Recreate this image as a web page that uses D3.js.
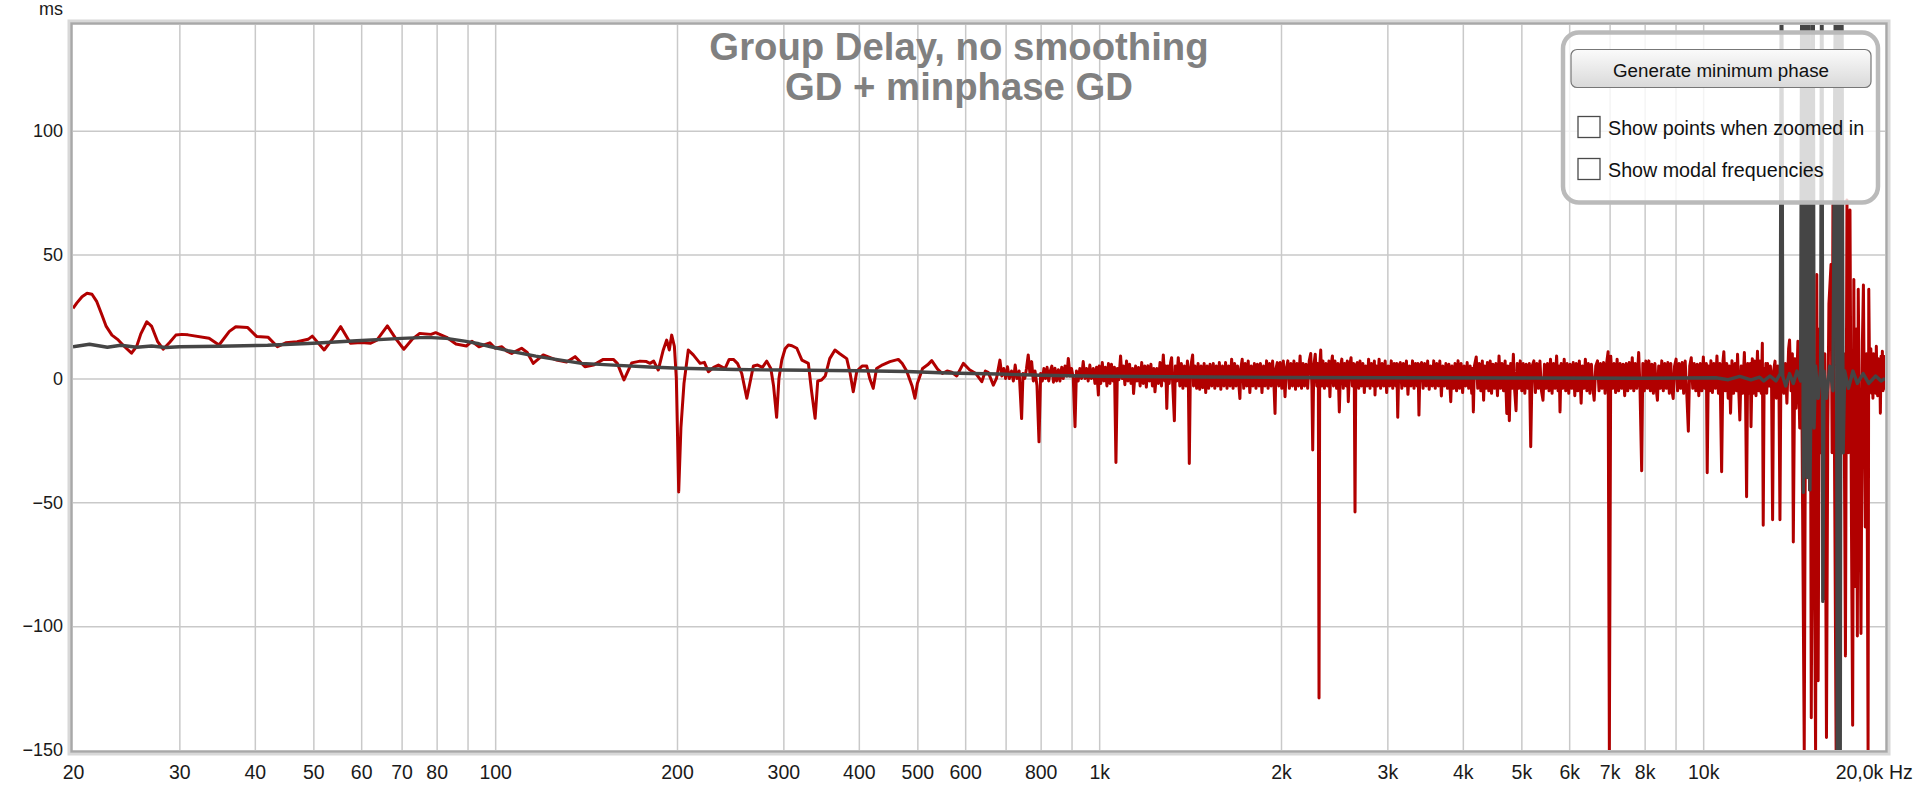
<!DOCTYPE html>
<html><head><meta charset="utf-8">
<script src="https://cdn.jsdelivr.net/npm/d3@7"></script>
<style>html,body{margin:0;padding:0;background:#fff;overflow:hidden}</style>
</head><body>
<svg id="chart" width="1920" height="787"></svg>
<script>
// ---------- DATA ----------
const titleLines = ["Group Delay, no smoothing", "GD + minphase GD"];
const yUnit = "ms";
const xUnit = "Hz";
const yTicks = [100, 50, 0, -50, -100, -150];
const yGrid = [100, 50, 0, -50, -100];
const gridFreqs = [30,40,50,60,70,80,90,100,200,300,400,500,600,700,800,900,1000,2000,3000,4000,5000,6000,7000,8000,9000,10000];
const labelFreqs = [20,30,40,50,60,70,80,100,200,300,400,500,600,800,1000,2000,3000,4000,5000,6000,7000,8000,10000,20000];
const labelTexts = ["20","30","40","50","60","70","80","100","200","300","400","500","600","800","1k","2k","3k","4k","5k","6k","7k","8k","10k","20,0k"];
const buttonLabel = "Generate minimum phase";
const checkLabels = ["Show points when zoomed in", "Show modal frequencies"];

// measured group delay (red), [Hz, ms]
const gdLow = [[20,28.3],[20.3,30.5],[20.7,33],[21.1,34.4],[21.5,34],[21.9,31],[22.3,26],[22.7,21],[23.2,17.5],[23.7,15.8],[24.3,13],[25.0,10.2],[25.5,13],[25.9,18],[26.5,22.9],[27,21],[27.6,15],[28.2,11.8],[28.9,14.5],[29.6,17.5],[30.3,17.8],[31.0,17.6],[33.6,16.2],[34.9,13.5],[36.3,19],[37.2,20.9],[38.9,20.6],[40.3,16.9],[42.1,16.6],[43.6,12.8],[45.0,14.4],[47,14.8],[49.0,15.8],[49.8,17.1],[52.1,11.5],[53.8,16],[55.5,20.9],[57.6,14.2],[60,14.5],[62.2,14.2],[63.7,15.5],[66.3,21.2],[68.5,16],[70.6,11.8],[73,16],[75.0,18.2],[78.3,17.8],[79.7,18.5],[83.1,16.6],[86.1,13.9],[89.6,13.1],[91.5,15],[94,12.8],[98,14.4],[100,12.2],[102.6,12.8],[104.5,11],[106.5,10.1],[110.6,12.2],[113,10.5],[115.6,6.1],[120.1,9.5],[126.4,7.4],[131.3,6.6],[135.6,8.8],[140.8,4.7],[145.4,5.4],[151,7.7],[156.9,7.7],[159.3,6.1],[163.4,-0.6],[168.3,6.3],[173.7,7.0],[178,6.8],[180.4,6.1],[183,7],[186.2,3.4],[189.8,11.5],[192.3,15.5],[194.2,11.5],[196,17.5],[198,13],[199.5,0],[201.3,-45.8],[203,-20],[205.4,-2],[208.8,11.5],[212.8,9.5],[218.4,6.1],[222,6.5],[225.4,2.7],[230,4.5],[234.2,5.4],[240.2,4.0],[244,7.7],[248,7.7],[252,6],[256,2],[261,-8],[267.6,5.0],[272,5.4],[277,4.5],[281.6,7],[286,4],[289,-3],[292.4,-15.7],[295,0],[298.2,7.4],[302,12],[305.8,13.5],[310,13.2],[315.8,12.2],[322,7.4],[330,6.1],[334,-5],[338.6,-16.1],[342,-1],[347,-0.6],[352,1],[358,8],[365.2,11.5],[372,10],[382,8],[387,2],[391.6,-5.4],[397,3],[405,5],[412.2,5],[417,0],[422.6,-4],[428,4],[438,5.5],[450.4,6.8],[465,7.7],[472,6],[480,3],[490,-3],[495.4,-8],[500,-2],[510,4],[520,5.5],[528.2,7.2],[540,3.8],[550,2],[560,3],[570,2.5],[581,1],[595.8,6.1],[610,3.5],[625,2],[639.2,-1.3],[648,3],[655,2.5],[668,-2.7],[676,0],[685,7.4],[690,1],[695,4],[700,0],[705,4.7],[710,0],[716,3],[721,-1],[726,5.4],[731,0],[737,3],[744,-16.2],[748,2],[753,0],[758,4],[763,9.5],[768,2],[773,6.8],[778,-1],[783,3],[789,-3],[795,-25.6],[800,2],[805,-1],[810,4],[815,0],[820,4.5],[825,-1],[830,3],[835,5],[840,-1.5],[845,4.1],[850,-1],[856,3.5],[861,-1],[867,4.5],[872,0],[878,5],[884,1],[889,8.1],[895,1],[900,4],[906,0],[912,-19.5],[917,3],[923,-1],[929,4],[935,0],[941,6.8],[947,0],[953,4],[959,-1],[965,5.4],[971,0],[978,4],[984,-2],[990,4.5],[997,-6.7]];

const gdMid = [[1000,5],[1006,-2],[1012,6.4],[1018,-1],[1024,4.5],[1030,-3],[1036,6],[1042,-2],[1048,5.7],[1054,-1],[1060,4.5],[1066,-33.9],[1072,4],[1078,-0.5],[1085,9.1],[1091,0],[1097,5],[1103,-2.5],[1110,7],[1116,-1],[1123,5.7],[1129,-2],[1136,4],[1140,-6.1],[1149,5],[1155,-1],[1162,4.4],[1169,-3],[1176,6.4],[1183,-2],[1190,5],[1197,-3.5],[1204,5.1],[1211,-1],[1218,5.7],[1225,-3],[1232,4],[1237,-5.4],[1246,4],[1253,-2],[1261,6.4],[1268,-3],[1277,9.5],[1284,-1],[1289,5],[1294,-12.1],[1300,5],[1306,-2],[1313,6.4],[1318,8.4],[1324,-3],[1332,-17.1],[1337,5],[1344,-1],[1352,8.4],[1360,-3],[1368,6],[1376,-4],[1384,5],[1392,-3],[1400,7],[1405,-2],[1410,-34.3],[1416,4],[1428,9.5],[1433,-3],[1441,5],[1450,-4],[1458,6],[1467,-4.4],[1475,5],[1484,-3.7],[1492,6],[1501,-5.7],[1509,5],[1518,-4],[1526,5.7],[1536,-3],[1545,6],[1554,-4],[1563,5],[1572,-3],[1581,6.4],[1590,-4.4],[1600,5],[1609,-3],[1619,6.4],[1628,-4],[1638,5],[1647,-3],[1657,7.8],[1666,-4],[1676,6],[1685,-3],[1695,5],[1705,-4],[1710,-8.1],[1716,4],[1725,7.8],[1735,-4],[1745,6],[1755,-3],[1765,7],[1776,-5.7],[1786,5],[1797,-3],[1807,6],[1818,-4],[1828,5.7],[1839,-3],[1849,6],[1860,-5.7],[1871,5],[1882,-3],[1893,7.1],[1904,-4],[1915,6],[1926,-3],[1937,7],[1948,-4],[1955,-14.1],[1962,4],[1972,6.4],[1983,-3],[1994,6.4],[2006,-4],[2018,7],[2031,-7.4],[2041,4],[2053,7.1],[2065,-4],[2077,6],[2089,-3],[2101,7],[2114,-4.4],[2126,6],[2138,-3],[2151,9.1],[2163,-4],[2176,6],[2188,-3],[2201,5.7],[2214,-4],[2227,7],[2240,10.1],[2250,-3],[2257,-28.9],[2266,5],[2279,9.8],[2292,-3],[2300,6],[2306,-4],[2312,-129],[2318,5],[2327,11.5],[2337,-3],[2347,7],[2360,-4],[2374,6],[2387,-3],[2401,7],[2410,-7.4],[2420,5],[2433,9.1],[2443,-3],[2457,7],[2472,-4],[2485,6],[2498,-13.5],[2510,5],[2522,7.8],[2536,-4],[2550,6],[2565,-3],[2575,7],[2585,-9.4],[2598,5],[2612,8.4],[2625,-3],[2638,6],[2645,-4],[2652,-53.9],[2660,5],[2675,6.4],[2690,-4],[2703,7],[2718,-3],[2733,6],[2748,-5.7],[2763,5],[2778,-3],[2793,7.8],[2808,-4],[2824,6],[2841,-3],[2855,7],[2862,-6.7],[2874,5],[2890,-3],[2907,7.8],[2924,-4],[2941,6],[2958,-3],[2975,7],[2992,-5.7],[3010,5],[3027,-3],[3045,7.1],[3062,-4],[3080,6],[3098,-3],[3110,6],[3121,-15.7],[3134,5],[3152,6.4],[3170,-4],[3189,6],[3207,-3],[3226,7],[3245,-6.4],[3264,5],[3283,-3],[3302,7.1],[3321,-4],[3340,6],[3360,-3],[3372,6],[3384,-14.8],[3398,5],[3418,6.4],[3438,-4],[3458,6],[3478,-3],[3498,7],[3519,-4.4],[3539,5],[3560,-3],[3580,7.1],[3601,-4],[3622,6],[3643,-3],[3664,7],[3686,-7.1],[3707,5],[3729,-3],[3750,6],[3772,-4],[3794,5.7],[3808,-3],[3820,-9.4],[3838,5]];

const gdHigh = [[3861,-4],[3883,6],[3906,-5],[3928,7.1],[3951,-4],[3974,6],[3997,-5.7],[4020,5],[4043,-3],[4067,6.4],[4090,-4],[4114,5],[4138,-6],[4150,4],[4164,-13.5],[4180,5],[4210,8.7],[4234,-4],[4259,6],[4284,-5],[4309,7],[4330,-8.8],[4350,5],[4370,-4],[4393,6.4],[4416,-5],[4440,7],[4463,-6],[4487,5.7],[4513,-4],[4538,6],[4565,-7],[4592,9.1],[4618,-4],[4645,6],[4672,-5],[4700,7],[4730,-14.1],[4750,5],[4776,-17.1],[4800,6],[4825,-4],[4850,9.8],[4875,-5],[4900,-13],[4922,6],[4950,-4],[4979,7.1],[5008,-5],[5037,6],[5066,-6],[5095,5.7],[5125,-4],[5155,6],[5182,-27.6],[5210,5],[5244,7.1],[5275,-5.7],[5305,6],[5336,-4],[5367,7],[5398,-5],[5430,-8.8],[5461,5.7],[5492,-4],[5524,6],[5556,-5],[5588,7.8],[5621,-6],[5654,6],[5686,-4],[5719,9.1],[5752,-5],[5775,5],[5794,-13.5],[5819,6],[5853,-4],[5887,7.8],[5921,-5],[5955,6],[5990,-6],[6024,5.7],[6059,-4],[6094,6.4],[6130,-7],[6165,6],[6200,-5],[6237,7],[6280,-10],[6309,5],[6345,-4],[6382,7.8],[6419,-5],[6456,6],[6494,-6],[6531,5.7],[6569,-4],[6600,-8.8],[6640,5],[6684,7.1],[6723,-5],[6762,6],[6800,-4],[6840,6.4],[6880,-6],[6919,6],[6960,10.8],[6993,-150],[7030,9],[7080,-4],[7120,6],[7162,-5.7],[7203,7.8],[7245,-5],[7287,6],[7329,-4],[7371,5.7],[7414,-7],[7457,6],[7500,-5],[7543,6.4],[7587,-4],[7631,8.4],[7675,-5],[7720,6],[7764,-4],[7820,10.5],[7860,-4],[7910,-37.3],[7945,6],[7991,-5],[8037,7],[8083,-4],[8130,7.1],[8177,-5],[8224,5.7],[8271,-6],[8319,6],[8367,-5],[8400,-8.8],[8440,5],[8490,-4],[8540,7.1],[8590,-5],[8640,6],[8690,-4],[8740,6.4],[8790,-6],[8840,6],[8880,-5],[8920,-8.1],[8966,5],[9019,7.8],[9070,-5],[9124,6],[9177,-4],[9230,6.4],[9283,-6],[9337,7],[9390,-5],[9450,-21.3],[9500,5],[9555,8.4],[9610,-4],[9666,6],[9722,-5],[9778,5.7],[9834,-7],[9891,6],[9948,-5],[10006,8.7],[10064,-4],[10122,6],[10155,-38.1],[10200,5],[10250,-5],[10300,7.1],[10358,-5.7],[10418,6],[10478,-4],[10539,9.1],[10600,-6],[10661,6],[10729,-37.7],[10785,7],[10820,10.8],[10880,-5],[10940,6],[11000,-8],[11050,5],[11100,-14],[11160,7.1],[11229,-6],[11294,6],[11359,-5],[11400,9.8],[11450,-4],[11500,-16.8],[11560,5],[11624,-6],[11700,10.5],[11750,-5],[11800,-47.8],[11850,6],[11920,-6],[11970,6],[12000,-19.5],[12060,8],[12120,-6],[12173,7],[12230,-7],[12300,11],[12360,-5],[12420,7],[12480,-6],[12530,14.2],[12572,-59.3]];

const gdTop = [[12620,4],[12660,-5],[12700,6],[12740,-6],[12780,6],[12850,-3],[12920,5],[12980,-4],[13030,-57],[13080,3],[13150,7],[13220,-8],[13300,5],[13350,-4],[13400,-57],[13450,4],[13520,9],[13600,-6],[13680,6],[13760,-10],[13850,12],[13900,15.5],[13980,-5],[14050,10],[14100,-66],[14180,8],[14250,-12],[14350,15],[14450,-20],[14550,10],[14700,-150],[14780,12],[14850,-30],[14920,20],[15000,-45],[15050,15],[15100,-137],[15180,10],[15250,-40],[15350,-150],[15420,42],[15500,-122],[15580,20],[15650,-30],[15720,25],[15800,-89],[15900,10],[16000,-145],[16080,-20],[16150,30],[16280,46],[16350,-30],[16400,70],[16480,-10],[16600,-150],[16700,20],[16780,-150],[16900,33],[17000,-20],[17100,10],[17200,-112],[17300,72],[17400,-30],[17500,68],[17600,-60],[17680,-140],[17760,40],[17850,-84],[17930,20],[18000,-104],[18060,36],[18150,-20],[18250,-103],[18350,15],[18420,37.7],[18550,-60],[18650,10],[18750,-150],[18800,36],[18870,-5],[18950,12],[19000,-6],[19050,8],[19100,-8],[19150,10],[19200,-4],[19250,7],[19300,-6],[19350,13],[19400,-3],[19450,-7],[19500,8],[19550,-5],[19600,6],[19650,-14],[19700,9],[19750,-3],[19800,11],[19850,-5],[19900,9],[19950,-4],[20000,6]];

// minimum phase group delay (dark grey), [Hz, ms]
const mpLow = [[20,12.8],[21.3,13.8],[22.8,12.6],[24,13.4],[25.5,12.6],[27,13.1],[28.5,12.5],[30,12.8],[35,13],[42,13.4],[50,14.2],[59,15.2],[70,16.2],[77,16.6],[83,16.2],[89,15.1],[94,14],[98,12.9],[105,11.2],[116.7,9.0],[123,8.1],[139,6.1],[157,5.4],[180,4.6],[202,4.1],[250,3.6],[298,3.4],[400,3.1],[480,2.8],[560,2.2],[680,1.8],[800,1.3],[1000,0.9],[1500,0.6],[2000,0.4],[3000,0.3],[5000,0.2],[8000,0.1],[10500,0.3],[11000,-0.5],[11500,0.8],[12000,-0.6]];
const mpHigh = [[12400,0.5],[12600,-1],[12900,1],[13200,-1],[13420,2],[13480,200],[13540,1],[13700,-3],[13900,2],[14100,-2],[14300,3],[14500,-1],[14580,200],[14650,-46],[14750,200],[14850,-40],[14950,200],[15020,-45],[15100,3],[15200,200],[15260,-20],[15350,5],[15500,-8],[15650,4],[15720,200],[15780,-90],[15850,3],[16000,-8],[16200,5],[16400,-5],[16600,200],[16680,-200],[16750,200],[16850,-200],[16950,200],[17050,-30],[17150,3],[17400,-4],[17700,3],[18000,-2],[18400,2],[18800,-2],[19300,1],[19700,-1],[20000,0]];

// ---------- CHART ----------
const svg = d3.select('#chart');
const FONT = '"Liberation Sans", Arial, sans-serif';
const plot = {left:73, right:1885, top:25, bottom:750};
const x = d3.scaleLog().domain([20, 20000]).range([plot.left, plot.right]);
const y = d3.scaleLinear().domain([-150, 142.7]).range([plot.bottom, plot.top]);

svg.append('rect').attr('width',1920).attr('height',787).attr('fill','#fff');

const defs = svg.append('defs');
defs.append('clipPath').attr('id','plotClip').append('rect')
  .attr('x',plot.left).attr('y',plot.top).attr('width',plot.right-plot.left).attr('height',plot.bottom-plot.top);
const grad = defs.append('linearGradient').attr('id','btnGrad').attr('x1',0).attr('x2',0).attr('y1',0).attr('y2',1);
grad.append('stop').attr('offset','0%').attr('stop-color','#fbfbfb');
grad.append('stop').attr('offset','100%').attr('stop-color','#d9d9d9');

// gridlines
svg.append('g').attr('transform',`translate(0,${plot.bottom})`)
  .call(d3.axisBottom(x).tickValues(gridFreqs).tickSize(-(plot.bottom-plot.top)).tickFormat(''))
  .call(g=>g.select('.domain').remove())
  .call(g=>g.selectAll('line').attr('stroke','#c9c9c9').attr('stroke-width',1.5));
svg.append('g').attr('transform',`translate(${plot.left},0)`)
  .call(d3.axisLeft(y).tickValues(yGrid).tickSize(-(plot.right-plot.left)).tickFormat(''))
  .call(g=>g.select('.domain').remove())
  .call(g=>g.selectAll('line').attr('stroke','#c9c9c9').attr('stroke-width',1.5));

// lines
const line = d3.line().x(d=>x(d[0])).y(d=>y(d[1]));
const lines = svg.append('g').attr('clip-path','url(#plotClip)');
const redData = gdLow.concat(gdMid, gdHigh, gdTop);
const greyData = mpLow.concat(mpHigh);
lines.append('path').datum(redData).attr('d',line)
  .attr('fill','none').attr('stroke','#b10000').attr('stroke-width',3).attr('stroke-linejoin','round');
lines.append('path').datum(greyData).attr('d',line)
  .attr('fill','none').attr('stroke','#454545').attr('stroke-width',3.4).attr('stroke-linejoin','round');

// frame
svg.append('rect').attr('x',69).attr('y',21).attr('width',1820).attr('height',733)
  .attr('fill','none').attr('stroke','#d8d8d8').attr('stroke-width',3);
svg.append('rect').attr('x',71.5).attr('y',23.5).attr('width',1815).attr('height',728)
  .attr('fill','none').attr('stroke','#a8a8a8').attr('stroke-width',2.5);

// axes labels
const yAx = svg.append('g').attr('transform',`translate(${plot.left},0)`)
  .call(d3.axisLeft(y).tickValues(yTicks).tickSize(0).tickPadding(10));
yAx.select('.domain').remove();
yAx.attr('font-family',FONT).attr('font-size',18);
yAx.selectAll('text').attr('fill','#1a1a1a');

const xAx = svg.append('g').attr('transform',`translate(0,${plot.bottom})`)
  .call(d3.axisBottom(x).tickValues(labelFreqs).tickFormat((d,i)=>labelTexts[i]).tickSize(0).tickPadding(15));
xAx.select('.domain').remove();
xAx.attr('font-family',FONT).attr('font-size',19.5);
xAx.selectAll('text').attr('fill','#1a1a1a');
xAx.selectAll('.tick').filter(d=>d===20000).select('text').attr('dx',-26);

svg.append('text').attr('x',1889).attr('y',779).attr('font-family',FONT).attr('font-size',19.5)
  .attr('fill','#1a1a1a').text(xUnit);
svg.append('text').attr('x',63).attr('y',15).attr('text-anchor','end').attr('font-family',FONT)
  .attr('font-size',18).attr('fill','#1a1a1a').text(yUnit);

// title
svg.selectAll('text.title').data(titleLines).enter().append('text').attr('class','title')
  .attr('x',959).attr('y',(d,i)=>60+i*40).attr('text-anchor','middle')
  .attr('font-family',FONT).attr('font-weight','bold').attr('font-size',38.3)
  .attr('fill','#808080').text(d=>d);

// control panel
const panel = svg.append('g');
panel.append('rect').attr('x',1563).attr('y',32.5).attr('width',315).attr('height',170).attr('rx',16)
  .attr('fill','rgba(255,255,255,0.8)').attr('stroke','#bababa').attr('stroke-width',4.5);
panel.append('rect').attr('x',1571).attr('y',49.5).attr('width',300).attr('height',38).attr('rx',6)
  .attr('fill','url(#btnGrad)').attr('stroke','#777').attr('stroke-width',1.2);
panel.append('text').attr('x',1721).attr('y',76.5).attr('text-anchor','middle')
  .attr('font-family',FONT).attr('font-size',18.8).attr('fill','#111').text(buttonLabel);
checkLabels.forEach((t,i)=>{
  const cy = 116.5 + i*42;
  panel.append('rect').attr('x',1578).attr('y',cy).attr('width',22).attr('height',21)
    .attr('fill','#fff').attr('stroke','#4a4a4a').attr('stroke-width',1.3);
  panel.append('text').attr('x',1608).attr('y',cy+18.5)
    .attr('font-family',FONT).attr('font-size',19.7).attr('fill','#111').text(t);
});
</script>
</body></html>
